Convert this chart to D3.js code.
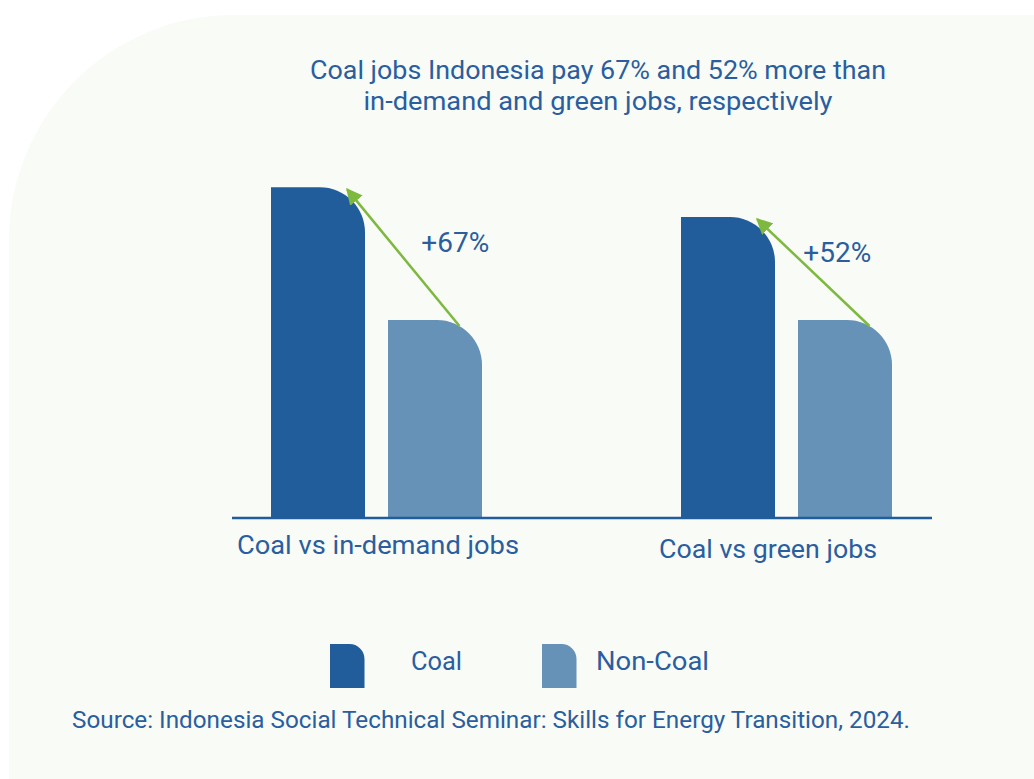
<!DOCTYPE html>
<html>
<head>
<meta charset="utf-8">
<script src="https://cdn.jsdelivr.net/npm/d3@7"></script>
<style>
  html, body { margin: 0; padding: 0; background: #ffffff; }
  svg { display: block; font-family: Roboto, "Noto Sans", sans-serif; }
</style>
</head>
<body>
<svg id="chart" width="1034" height="779"></svg>
<script>
// Wage comparison: coal vs non-coal jobs (non-coal indexed to 100)
const categories = ["Coal vs in-demand jobs", "Coal vs green jobs"];
const seriesNames = ["Coal", "Non-Coal"];
const coalValues = [167, 152];
const nonCoalValues = [100, 100];
const titleLines = [
  "Coal jobs Indonesia pay 67% and 52% more than",
  "in-demand and green jobs, respectively"
];
const sourceText = "Source: Indonesia Social Technical Seminar: Skills for Energy Transition, 2024.";

const colors = { "Coal": "#215d9a", "Non-Coal": "#6592b6" };
const textColor = "#2a5e9f";
const arrowColor = "#7db83f";

const svg = d3.select("#chart");

// background panel with a large rounded upper-left corner
const px = 9, py = 15, pr = 225, pw = 1034, ph = 779;
svg.append("path")
  .attr("d", `M${px},${ph} L${px},${py + pr} A${pr},${pr} 0 0 1 ${px + pr},${py} L${pw},${py} L${pw},${ph} Z`)
  .attr("fill", "#f9fbf6");

// title
svg.append("g").selectAll("text")
  .data(titleLines)
  .join("text")
  .attr("x", 598)
  .attr("y", (d, i) => 79 + i * 31)
  .attr("text-anchor", "middle")
  .attr("font-size", 25)
  .attr("textLength", (d, i) => i === 0 ? 576 : 469)
  .attr("lengthAdjust", "spacingAndGlyphs")
  .attr("fill", textColor)
  .text(d => d);

// scales
const baseY = 518;
const y = d3.scaleLinear().domain([0, 170]).range([baseY, baseY - 1.98 * 170]);
const x0 = d3.scaleBand().domain(categories).range([171.5, 991.5]);
const x1 = d3.scaleBand().domain(seriesNames)
  .range([-105.5, 105.5]).paddingInner(0.1966);

const rows = categories.map((c, i) => ({
  category: c,
  values: [
    { key: "Coal", value: coalValues[i] },
    { key: "Non-Coal", value: nonCoalValues[i] }
  ]
}));

// bar with a rounded top-right corner
function barPath(x, top, w, bottom, r) {
  const rr = Math.min(r, w, bottom - top);
  return `M${x},${bottom} L${x},${top} L${x + w - rr},${top} ` +
         `A${rr},${rr} 0 0 1 ${x + w},${top + rr} L${x + w},${bottom} Z`;
}

const bw = x1.bandwidth();
const groups = svg.append("g").selectAll("g")
  .data(rows)
  .join("g")
  .attr("transform", d => `translate(${x0(d.category) + x0.bandwidth() / 2},0)`);

groups.selectAll("path")
  .data(d => d.values)
  .join("path")
  .attr("d", d => barPath(x1(d.key), y(d.value), bw, baseY, 45))
  .attr("fill", d => colors[d.key]);

// axis baseline
svg.append("line")
  .attr("x1", 232).attr("x2", 932)
  .attr("y1", baseY).attr("y2", baseY)
  .attr("stroke", "#215d9a").attr("stroke-width", 2.5);

// category labels
const labelNudge = [{ dx: 1.5, dy: 0, w: 282 }, { dx: -18.5, dy: 4, w: 218 }];
svg.append("g").selectAll("text")
  .data(categories)
  .join("text")
  .attr("x", (d, i) => x0(d) + x0.bandwidth() / 2 + labelNudge[i].dx)
  .attr("y", (d, i) => 554 + labelNudge[i].dy)
  .attr("text-anchor", "middle")
  .attr("font-size", 25)
  .attr("textLength", (d, i) => labelNudge[i].w)
  .attr("lengthAdjust", "spacingAndGlyphs")
  .attr("fill", textColor)
  .text(d => d);

// arrow marker
svg.append("defs").append("marker")
  .attr("id", "arrowHead")
  .attr("viewBox", "0 0 10 10")
  .attr("refX", 9).attr("refY", 5)
  .attr("markerWidth", 6.5).attr("markerHeight", 6.5)
  .attr("markerUnits", "strokeWidth")
  .attr("orient", "auto")
  .append("path")
  .attr("d", "M0,0 L10,5 L0,10 Z")
  .attr("fill", arrowColor);

// arrows from the non-coal bar to the coal bar, with % difference labels
const pctNudge = [{ dx: 52, dy: 0 }, { dx: 24, dy: -5 }];
rows.forEach((r, i) => {
  const cx = x0(r.category) + x0.bandwidth() / 2;
  const coal = r.values[0], non = r.values[1];
  const sx = cx + x1(non.key) + bw * 0.76, sy = y(non.value) + 6;
  const ex = cx + x1(coal.key) + bw * 0.81, ey = y(coal.value) + 2;
  svg.append("line")
    .attr("x1", sx).attr("y1", sy)
    .attr("x2", ex).attr("y2", ey)
    .attr("stroke", arrowColor).attr("stroke-width", 2.5)
    .attr("marker-end", "url(#arrowHead)");
  const pct = Math.round((coal.value / non.value - 1) * 100);
  svg.append("text")
    .attr("x", (sx + ex) / 2 + pctNudge[i].dx)
    .attr("y", (sy + ey) / 2 + pctNudge[i].dy - 6)
    .attr("text-anchor", "middle")
    .attr("font-size", 28)
    .attr("fill", textColor)
    .text(`+${pct}%`);
});

// legend
const legendItems = [
  { key: "Coal", ix: 330, tx: 411, w: 51 },
  { key: "Non-Coal", ix: 542, tx: 596, w: 113 }
];
const legend = svg.append("g").selectAll("g")
  .data(legendItems)
  .join("g");
legend.append("path")
  .attr("d", d => barPath(d.ix, 644, 34.5, 688, 15))
  .attr("fill", d => colors[d.key]);
legend.append("text")
  .attr("x", d => d.tx)
  .attr("y", 670)
  .attr("font-size", 26)
  .attr("textLength", d => d.w)
  .attr("lengthAdjust", "spacingAndGlyphs")
  .attr("fill", textColor)
  .text(d => d.key);

// source note
svg.append("text")
  .attr("x", 72)
  .attr("y", 728)
  .attr("font-size", 23)
  .attr("textLength", 838)
  .attr("lengthAdjust", "spacingAndGlyphs")
  .attr("fill", textColor)
  .text(sourceText);
</script>
</body>
</html>
